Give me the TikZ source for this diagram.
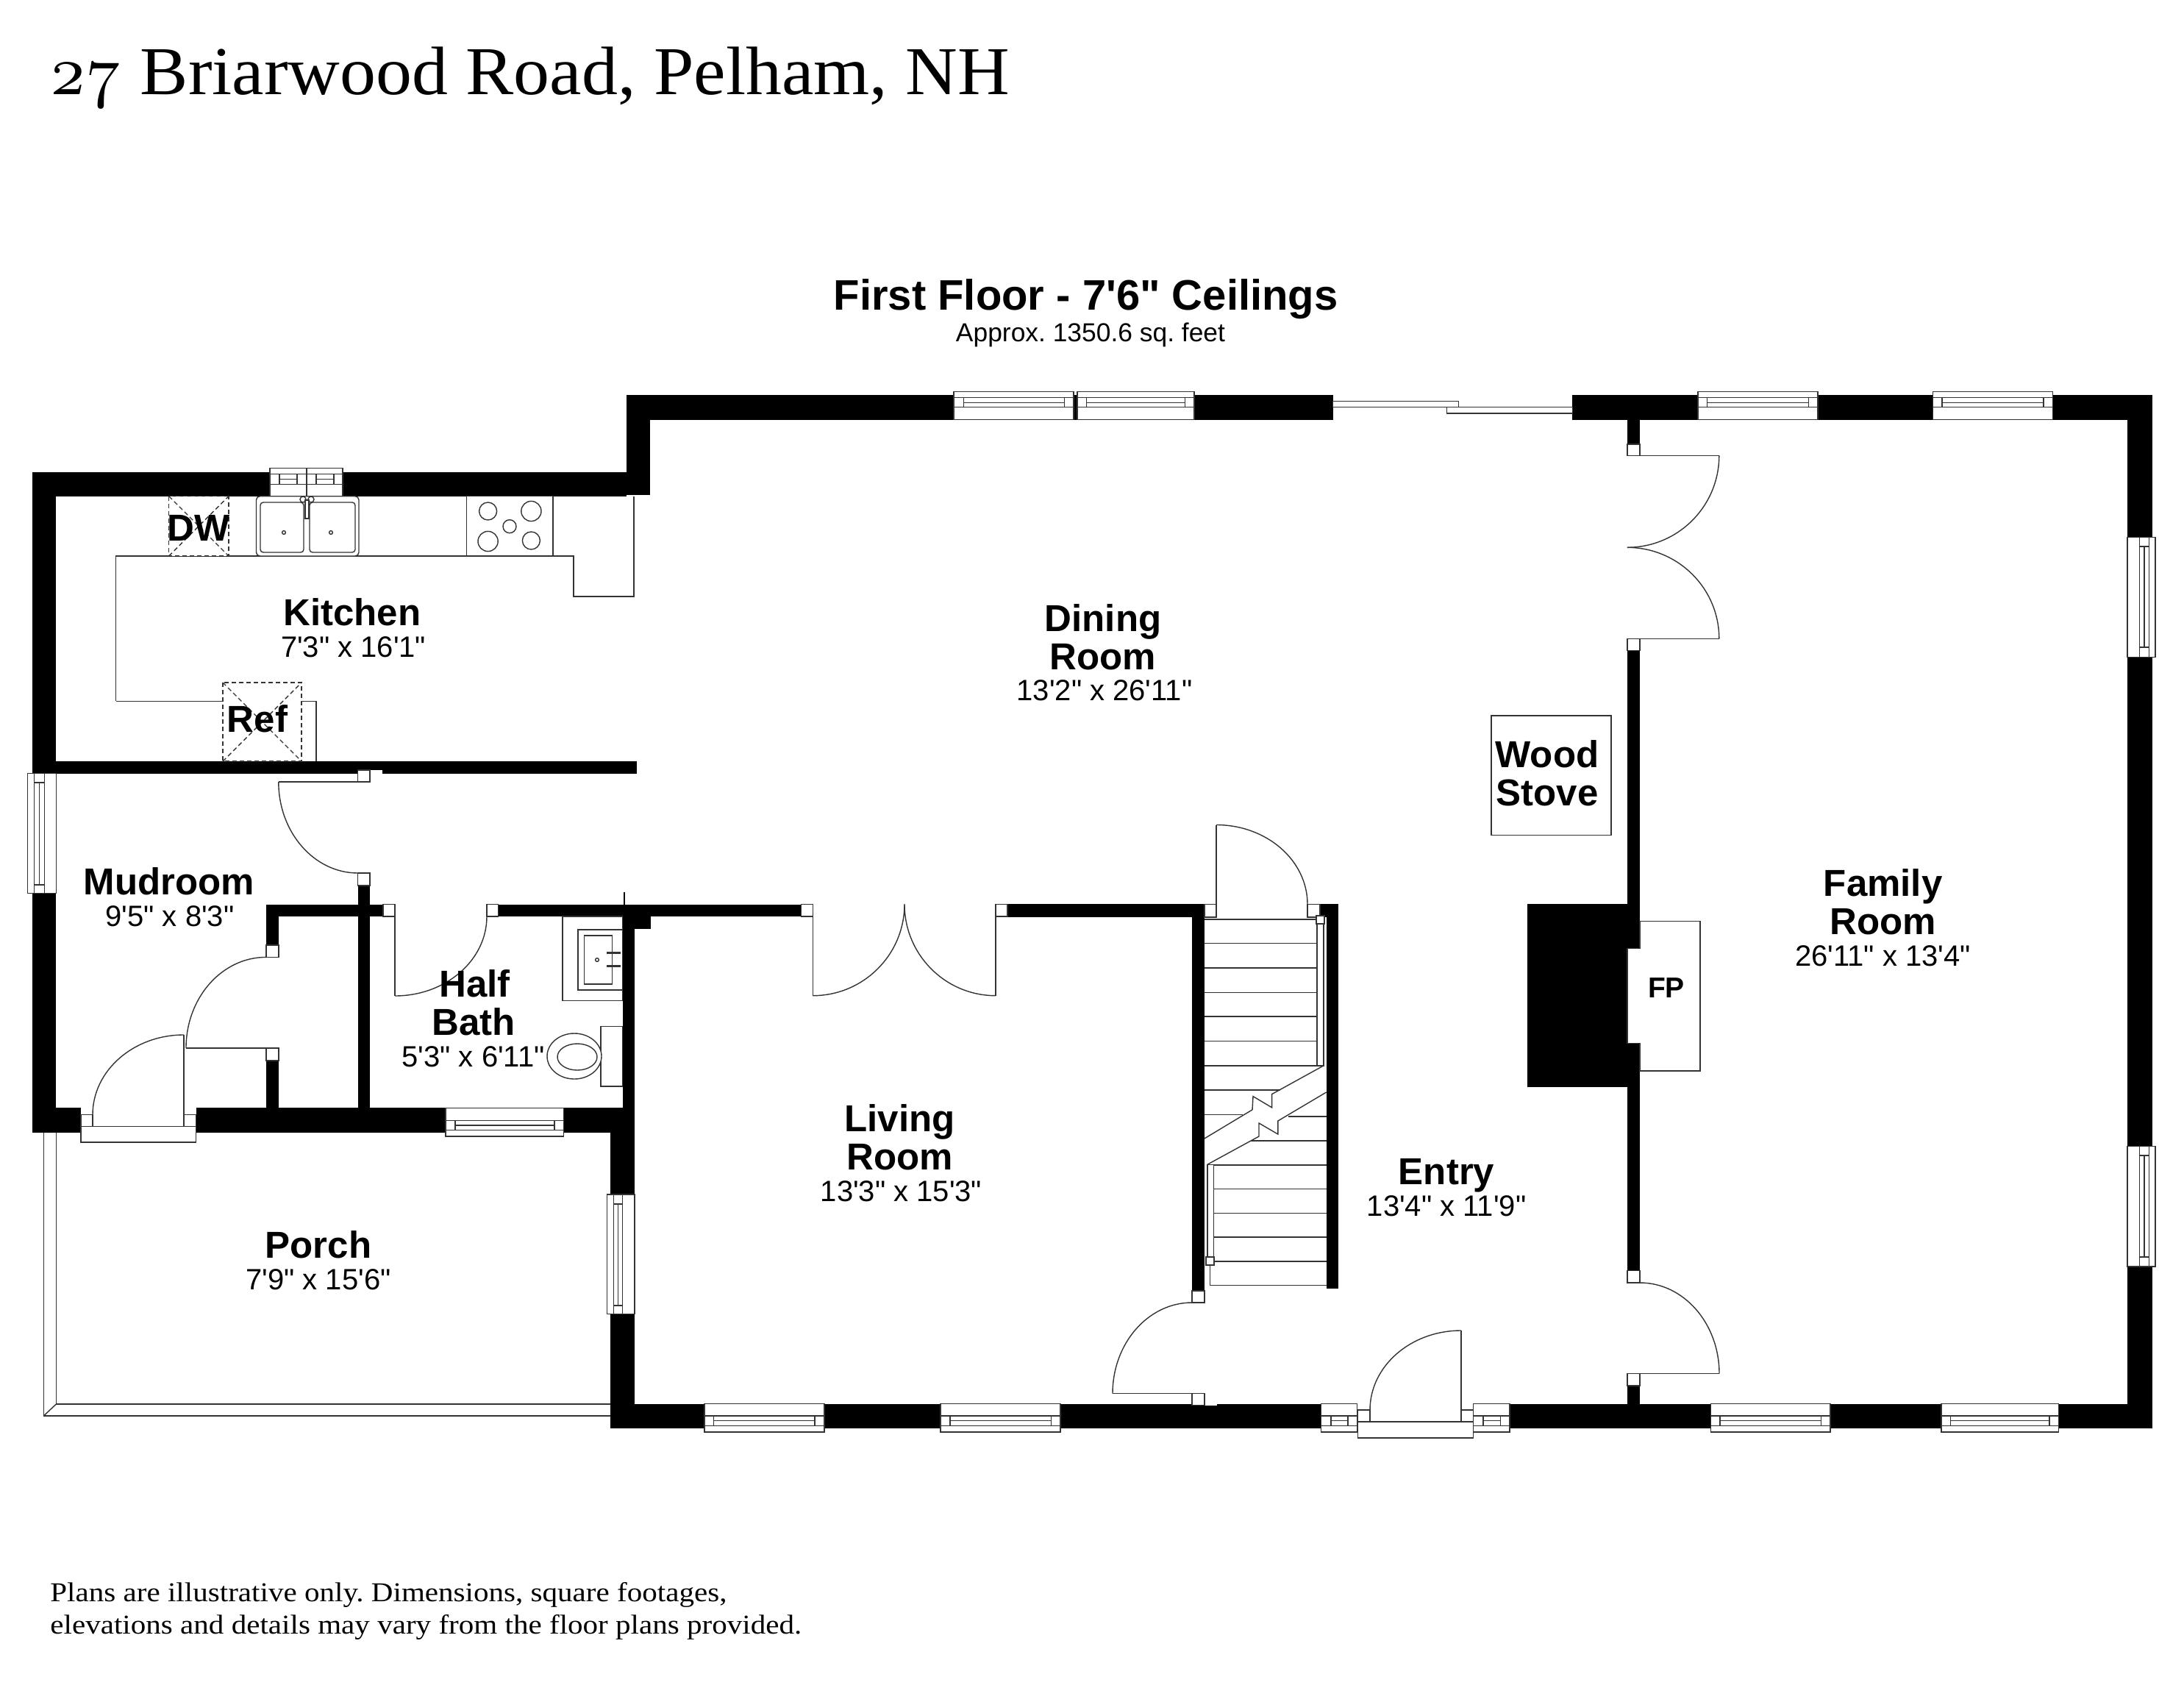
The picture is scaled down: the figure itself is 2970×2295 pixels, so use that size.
\documentclass[tikz,border=0pt]{standalone}
\usepackage{fontspec}
\setmainfont{Liberation Sans}[Ligatures=TeXOff]
\newfontfamily\titlefont{Liberation Serif}[FakeStretch=1.05]
\newfontfamily\notefont{Liberation Serif}[FakeStretch=1.11]
\newfontfamily\oldnums{lmroman10-regular.otf}[Numbers=OldStyle]
\definecolor{ln}{gray}{0.2}
\tikzset{
  x=0.5pt,y=-0.5pt,
  thinln/.style={draw=ln,line width=0.7pt,line join=miter},
  box/.style={thinln,fill=white},
  dashbox/.style={draw=ln,line width=0.7pt,dash pattern=on 3pt off 2pt},
  rname/.style={anchor=base,inner sep=0pt,font=\bfseries\fontsize{25.5}{30}\selectfont},
  rdim/.style={anchor=base,inner sep=0pt,font=\fontsize{20}{24}\selectfont},
}
\newcommand{\wallr}[4]{\fill[black] (#1,#2) rectangle (#3,#4);}
\newcommand{\whiter}[4]{\fill[white] (#1,#2) rectangle (#3,#4);}
\newcommand{\jamb}[4]{\draw[box] (#1,#2) rectangle (#3,#4);}
\newcommand{\doorarc}[4]{%
  \pgfmathsetmacro\cxa{#1+0.5523*(#3-#1)}%
  \pgfmathsetmacro\cyb{#4-0.5523*(#4-#2)}%
  \draw[thinln] (#1,#2) .. controls (\cxa,#2) and (#3,\cyb) .. (#3,#4);}
% x1 x2 ix1 ix2 ytop y1 ymid y2 ybot
\newcommand{\hwin}[9]{%
  \draw[box] (#1,#5) rectangle (#2,#9);
  \draw[thinln] (#1,#6) -- (#2,#6) (#1,#8) -- (#2,#8);
  \draw[thinln] (#3,#6) rectangle (#4,#8) (#3,#7) -- (#4,#7);}
% y1 y2 iy1 iy2 xleft x1 xmid x2 xright
\newcommand{\vwin}[9]{%
  \draw[box] (#5,#1) rectangle (#9,#2);
  \draw[thinln] (#6,#1) -- (#6,#2) (#8,#1) -- (#8,#2);
  \draw[thinln] (#6,#3) rectangle (#8,#4) (#7,#3) -- (#7,#4);}
\frenchspacing
\begin{document}
\begin{tikzpicture}
\useasboundingbox (0,0) rectangle (2970,2295);
\fill[white] (0,0) rectangle (2970,2295);

% ---- porch
\draw[thinln] (59.4,1540) -- (59.4,1925) -- (830.3,1925);
\draw[thinln] (76.4,1540) -- (76.4,1909) -- (830.3,1909);
\draw[thinln] (59.4,1925) -- (76.4,1909);

% ---- walls
\wallr{43.6}{641.7}{851.5}{674.7}
\wallr{851.5}{537.3}{884}{673}
\wallr{851.5}{537.3}{1812.5}{570.7}
\wallr{2138.4}{537.3}{2926.7}{570.7}
\wallr{2893}{537.3}{2926.7}{1942}
\wallr{830.3}{1908.7}{2926.7}{1942}
\wallr{830.3}{1506.4}{863}{1942}
\wallr{846.7}{1229.6}{863}{1506.4}
\wallr{43.6}{1506.4}{863}{1539.8}
\wallr{43.6}{641.7}{75.8}{1539.8}
\wallr{43.6}{1035}{866}{1052.3}
\wallr{486.7}{1204}{503}{1506.4}
\wallr{361.8}{1229.6}{521}{1246}
\wallr{677.6}{1229.6}{1089.3}{1246}
\wallr{1370}{1229.4}{1621}{1247}
\wallr{846.7}{1246}{885}{1263}
\wallr{361.8}{1229.6}{378.8}{1285}
\wallr{361.8}{1442}{378.8}{1506.4}
\wallr{1621}{1229.4}{1637.8}{1755}
\wallr{1795}{1229.4}{1820}{1247}
\wallr{1803.6}{1229.4}{1820}{1752}
\wallr{2213}{570.7}{2230}{604}
\wallr{2213}{884.3}{2230}{1727.7}
\wallr{2213}{1884}{2230}{1908.7}
\wallr{2076.5}{1229.4}{2213}{1478}
\draw[black,line width=1pt] (848.5,1213) -- (848.5,1230);

% ---- fireplace
\draw[box] (2230,1252.4) rectangle (2312,1456);
\draw[box] (2213,1289.4) rectangle (2230,1418.5);
\whiter{2226}{1290.4}{2232}{1417.5}
\draw[thinln] (2230,1252.4) -- (2230,1289.4) (2230,1418.5) -- (2230,1456);
\node[anchor=base,inner sep=0pt,font=\bfseries\fontsize{19.5}{22}\selectfont] (fp) at (2266,1356) {FP};

% ---- openings
\whiter{110}{1506.4}{266.7}{1539.8}
\whiter{1846.4}{1908.7}{2003.6}{1942}
\whiter{486.7}{1047}{520}{1052.3}
\whiter{1621}{1908.7}{1655}{1910.7}

% ---- windows
% kitchen double
\draw[box] (367,636.3) rectangle (466,674.7);
\draw[thinln] (417,636.3) -- (417,674.7) (367,658.3) -- (466,658.3) (367,644.3) -- (466,644.3);
\draw[thinln] (380,644.3) rectangle (404,658.3) (380,651.7) -- (404,651.7);
\draw[thinln] (430,644.3) rectangle (454,658.3) (430,651.7) -- (454,651.7);
% top wall
\hwin{1297}{1460}{1310.6}{1447.7}{532.3}{540.7}{547.3}{553.3}{570.7}
\hwin{1465}{1624}{1477.7}{1611.6}{532.3}{540.7}{547.3}{553.3}{570.7}
\hwin{2309}{2472}{2321.5}{2459.6}{532.3}{540.7}{547.3}{553.3}{570.7}
\hwin{2628.6}{2791.7}{2641}{2779}{532.3}{540.7}{547.3}{553.3}{570.7}
% bottom wall
\hwin{958}{1121}{970.4}{1108}{1908.7}{1925}{1931.7}{1938.3}{1947}
\hwin{1279}{1441.8}{1292}{1429.6}{1908.7}{1925}{1931.7}{1938.3}{1947}
\hwin{1796.7}{1845.7}{1810}{1833}{1908.7}{1925}{1931.7}{1938.3}{1947}
\hwin{2003.6}{2053}{2017}{2040.5}{1908.7}{1925}{1931.7}{1938.3}{1947}
\hwin{2326.5}{2489}{2339}{2476.5}{1908.7}{1925}{1931.7}{1938.3}{1947}
\hwin{2640}{2799.6}{2652.6}{2787}{1908.7}{1925}{1931.7}{1938.3}{1947}
% half bath
\hwin{606}{766.7}{619}{754}{1506.7}{1523.3}{1530}{1536.7}{1545}
% vertical
\vwin{1051.4}{1214.6}{1064}{1203}{37.6}{46.7}{53.3}{60.6}{76.4}
\vwin{1624}{1786.7}{1637}{1775}{825.5}{834.5}{840.6}{846.7}{863}
\vwin{730.7}{893.7}{743}{880}{2893}{2909.4}{2916}{2922.6}{2931}
\vwin{1558.7}{1722}{1571}{1709}{2893}{2909.4}{2916}{2922.6}{2931}
% sliding door
\draw[box] (1812.5,545.3) rectangle (1983.4,553.3);
\draw[box] (1967.5,553.3) rectangle (2138.4,562);

% ---- jambs and doors
\jamb{486.7}{1047}{503}{1063}
\jamb{486.7}{1187}{503}{1204}
\draw[thinln] (378.8,1063) -- (486.7,1063);
\doorarc{486.7}{1187}{378.8}{1063}

\jamb{521}{1229.6}{537}{1246}
\jamb{662}{1229.6}{677.6}{1246}
\draw[thinln] (537,1246) -- (537,1354);
\doorarc{537}{1354}{662}{1246}

\jamb{361.8}{1285}{378.8}{1301.4}
\jamb{361.8}{1425}{378.8}{1442}
\draw[thinln] (253,1425) -- (361.8,1425);
\doorarc{361.8}{1301.4}{253}{1425}

\draw[box] (110,1531.4) rectangle (266.7,1553);
\jamb{110}{1515.7}{126}{1531.4}
\jamb{250}{1515.7}{266.7}{1531.4}
\draw[thinln] (250,1407) -- (250,1515.7);
\doorarc{250}{1407}{126}{1515.7}

\jamb{1089.3}{1229.3}{1105.3}{1246}
\jamb{1354}{1229.3}{1370}{1246}
\draw[thinln] (1105.3,1246) -- (1105.3,1353.7);
\draw[thinln] (1354,1246) -- (1354,1353.7);
\doorarc{1105.3}{1353.7}{1230}{1229.3}
\doorarc{1354}{1353.7}{1230}{1229.3}

\jamb{1637.8}{1229.4}{1654}{1247}
\jamb{1778}{1229.4}{1795}{1247}
\draw[thinln] (1654,1121.5) -- (1654,1229.4);
\doorarc{1654}{1121.5}{1778}{1229.4}

\jamb{1621}{1755}{1637.8}{1771}
\jamb{1621}{1894.7}{1637.8}{1910.7}
\draw[thinln] (1513,1894.7) -- (1621,1894.7);
\doorarc{1621}{1771}{1513}{1894.7}

\draw[box] (1846.4,1933) rectangle (2003.6,1955);
\jamb{1846.4}{1917}{1863}{1933}
\jamb{1987}{1917}{2003.6}{1933}
\draw[thinln] (1987,1809) -- (1987,1917);
\doorarc{1987}{1809}{1863}{1917}

\jamb{2213}{1727.7}{2230}{1744}
\jamb{2213}{1867.7}{2230}{1884}
\draw[thinln] (2230,1867.7) -- (2338,1867.7);
\doorarc{2230}{1744}{2338}{1867.7}

\jamb{2213}{604}{2230}{619.3}
\jamb{2213}{868.5}{2230}{884.3}
\draw[thinln] (2230,619.3) -- (2337.8,619.3) (2230,868.5) -- (2337.8,868.5);
\doorarc{2212.8}{744.3}{2337.8}{619.3}
\doorarc{2212.8}{744.3}{2337.8}{868.5}

% ---- stairs
\foreach \yy in {1250,1282.7,1316,1349.4,1382,1415.5,1448.8}
  \draw[thinln] (1637.8,\yy) -- (1791,\yy);
\draw[thinln] (1637.8,1482) -- (1741,1482) (1637.8,1515.5) -- (1690,1515.5);
\draw[thinln] (1751.5,1517.9) -- (1803.6,1517.9) (1700.5,1551) -- (1803.6,1551);
\foreach \yy in {1584,1616.7,1649.4,1682,1715}
  \draw[thinln] (1650.5,\yy) -- (1803.6,\yy);
\draw[thinln] (1645.4,1715) -- (1645.4,1747.6) -- (1803.6,1747.6);
\draw[box] (1791,1250) rectangle (1800,1448.8);
\draw[box] (1790,1245) rectangle (1801,1256);
\draw[box] (1641.8,1583.3) rectangle (1650.5,1715);
\draw[box] (1640,1709) rectangle (1651,1720);
\draw[thinln] (1637.8,1548) -- (1703,1508.8) -- (1704,1490.6) -- (1729.6,1505.8) -- (1729.6,1487.6) -- (1800,1448.8);
\draw[thinln] (1641.8,1583.3) -- (1712,1545) -- (1712,1527) -- (1737.8,1542) -- (1737.8,1524) -- (1803.6,1485);

% ---- kitchen fixtures
\draw[thinln] (157.6,953.3) -- (157.6,756) -- (780,756) -- (780,811) -- (862,811) -- (862,674.7);
\draw[thinln] (157.6,953.3) -- (303,953.3) (410,953.3) -- (430,953.3) -- (430,1035);
% dishwasher
\draw[dashbox,fill=white] (229.7,674.7) rectangle (311,756);
\draw[dashbox] (229.7,674.7) -- (311,756) (229.7,756) -- (311,674.7);
% refrigerator
\draw[dashbox,fill=white] (303,928) rectangle (410,1035);
\draw[dashbox] (303,928) -- (410,1035) (303,1035) -- (410,928);
% sink
\draw[box,rounded corners=2.5pt] (348.5,674.7) rectangle (488,756);
\draw[thinln,rounded corners=2pt] (354,683) rectangle (413,751);
\draw[thinln,rounded corners=2pt] (421,683) rectangle (483,751);
\draw[thinln] (415,680) rectangle (420,705);
\draw[thinln] (412,679) circle[radius=2pt] (423,679) circle[radius=2pt];
\draw[thinln] (386,724) circle[radius=1.2pt] (450,724) circle[radius=1.2pt];
% cooktop
\draw[box] (634.5,674.7) rectangle (752,756);
\draw[thinln] (663.6,695) circle[radius=6pt];
\draw[thinln] (722.4,695) circle[radius=6.8pt];
\draw[thinln] (693,715.7) circle[radius=4.5pt];
\draw[thinln] (663.6,736) circle[radius=6.8pt];
\draw[thinln] (722.4,735) circle[radius=6pt];

% ---- half bath fixtures
\draw[box] (765,1246) rectangle (846.7,1360.7);
\draw[thinln] (786,1264) rectangle (846.7,1346);
\draw[thinln] (794.5,1272) rectangle (832.7,1338);
\draw[thinln] (812,1305) circle[radius=1.2pt];
\draw[line width=1.6pt,draw=ln] (825,1295.7) -- (844,1295.7) (825,1313.6) -- (844,1313.6);
\draw[thinln] (817,1395.7) rectangle (846.7,1477);
\draw[box] (781,1436) ellipse[x radius=18.5pt,y radius=15.5pt];
\draw[thinln] (785,1437) ellipse[x radius=13.5pt,y radius=9pt];

% ---- wood stove
\draw[thinln] (2028,973) rectangle (2191,1135.5);

% ---- labels
\node[rname] (lblDW) at (270,735) {DW};
\node[rname] (lblRef) at (350,995) {Ref};
\node[rname] (kitchen) at (479,850) {Kitchen};
\node[rdim] (kitchenD) at (480.6,893) {7'3" x 16'1"};
\node[rname] (dining1) at (1500,858) {Dining};
\node[rname] (dining2) at (1500,910) {Room};
\node[rdim] (diningD) at (1502,952) {13'2" x 26'11"};
\node[rname] (family1) at (2560.6,1218) {Family};
\node[rname] (family2) at (2560.6,1270) {Room};
\node[rdim] (familyD) at (2560.6,1313) {26'11" x 13'4"};
\node[rname] (mud) at (230,1216.4) {Mudroom};
\node[rdim] (mudD) at (231,1259) {9'5" x 8'3"};
\node[rname] (half1) at (645.5,1355) {Half};
\node[rname] (half2) at (644,1407.5) {Bath};
\node[rdim] (halfD) at (643.6,1450) {5'3" x 6'11"};
\node[rname] (living1) at (1223.5,1538) {Living};
\node[rname] (living2) at (1223.5,1590) {Room};
\node[rdim] (livingD) at (1225.5,1633) {13'3" x 15'3"};
\node[rname] (porch) at (433,1710) {Porch};
\node[rdim] (porchD) at (433,1753) {7'9" x 15'6"};
\node[rname] (entry) at (1967,1610.6) {Entry};
\node[rdim] (entryD) at (1967,1653) {13'4" x 11'9"};
\node[rname] (wood) at (2104,1043) {Wood};
\node[rname] (stove) at (2104,1095) {Stove};

\node[anchor=base,inner sep=0pt,font=\bfseries\fontsize{29}{34}\selectfont] (floor) at (1476.6,422) {First Floor - 7'6" Ceilings};
\node[anchor=base,inner sep=0pt,font=\fontsize{17.7}{21}\selectfont] (area) at (1483,464) {Approx. 1350.6 sq. feet};
\node[anchor=base west,inner sep=0pt,font=\fontsize{46.6}{50}\selectfont] (title) at (66,128.3) {{\oldnums 27} \titlefont Briarwood Road, Pelham, NH};
\node[anchor=base west,inner sep=0pt,font=\notefont\fontsize{18.5}{22}\selectfont] (note1) at (68,2177) {Plans are illustrative only. Dimensions, square footages,};
\node[anchor=base west,inner sep=0pt,font=\notefont\fontsize{18.5}{22}\selectfont] (note2) at (68,2221) {elevations and details may vary from the floor plans provided.};
\end{tikzpicture}
\end{document}
